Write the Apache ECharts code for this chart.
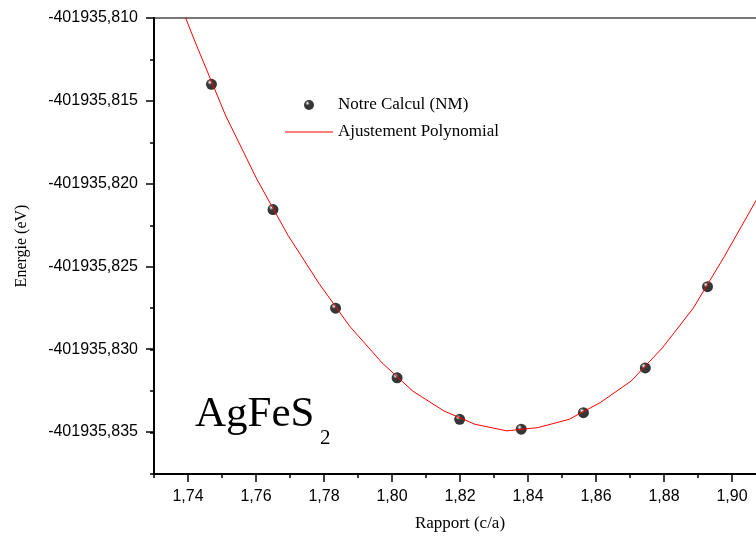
<!DOCTYPE html>
<html>
<head>
<meta charset="utf-8">
<script src="https://cdn.jsdelivr.net/npm/echarts@6/dist/echarts.min.js"></script>
<style>
html,body{margin:0;padding:0;background:#fff;}
#c{width:756px;height:538px;}
</style>
</head>
<body>
<div id="c"></div>
<script>
// Calculated points (Notre Calcul (NM))
const ratioCalc = [1.7469, 1.7650, 1.7834, 1.8015, 1.8199, 1.8380, 1.8563, 1.8745, 1.8928];
const energyCalc = [-401935.8140, -401935.82155, -401935.8275, -401935.8317, -401935.8342, -401935.8348, -401935.8338, -401935.8311, -401935.8262];
// Polynomial fit (Ajustement Polynomial)
const ratioFit = [1.7328, 1.7420, 1.7511, 1.7602, 1.7694, 1.7785, 1.7876, 1.7971, 1.8061, 1.8153, 1.8244, 1.8338, 1.8430, 1.8521, 1.8612, 1.8703, 1.8795, 1.8886, 1.8977, 1.9071, 1.9163];
const energyFit = [-401935.8066, -401935.8114, -401935.8159, -401935.8197, -401935.8231, -401935.8260, -401935.8286, -401935.8308, -401935.8325, -401935.8337, -401935.8345, -401935.8349, -401935.8347, -401935.8342, -401935.8332, -401935.8319, -401935.8299, -401935.8275, -401935.8244, -401935.8210, -401935.8169];
const seriesNames = ['Notre Calcul (NM)', 'Ajustement Polynomial'];
const xTitle = 'Rapport (c/a)';
const yTitle = 'Energie (eV)';
const compound = 'AgFeS';
const compoundSub = '2';

const serif = '"Liberation Serif", "Times New Roman", serif';
const sans = '"Liberation Sans", Arial, sans-serif';

const chart = echarts.init(document.getElementById('c'), null, {renderer: 'canvas'});

const sphere = {
  type: 'radial', x: 0.35, y: 0.32, r: 0.7,
  colorStops: [
    {offset: 0, color: '#ffffff'},
    {offset: 0.12, color: '#a0a0a0'},
    {offset: 0.32, color: '#080808'},
    {offset: 1, color: '#000000'}
  ]
};

const option = {
  backgroundColor: '#ffffff',
  animation: false,
  grid: [
    {left: 154, right: -10, top: 18, bottom: 64, outerBoundsMode: 'none', containLabel: false, show: true, borderColor: '#777777', borderWidth: 2, backgroundColor: 'transparent'},
    {left: 188, right: -10, top: 18, bottom: 64, outerBoundsMode: 'none', containLabel: false},
    {left: 154, right: -10, top: 18, bottom: 106, outerBoundsMode: 'none', containLabel: false}
  ],
  legend: {
    orient: 'vertical', left: 280, top: 90,
    itemWidth: 48, itemHeight: 10, itemGap: 7,
    data: [
      {name: seriesNames[0]},
      {name: seriesNames[1], icon: 'path://M0,0L48,0L48,1L0,1Z', itemStyle: {color: '#ff0000'}}
    ],
    textStyle: {fontFamily: serif, fontSize: 17, color: '#000', lineHeight: 20}
  },
  xAxis: [
    {
      gridIndex: 0, type: 'value', min: 1.73, max: 1.91, interval: 0.01,
      name: xTitle, nameLocation: 'middle', nameGap: 41,
      nameTextStyle: {fontFamily: serif, fontSize: 17, color: '#000'},
      axisLine: {show: true, onZero: false, lineStyle: {color: '#000', width: 2}},
      axisTick: {show: true, length: 4, inside: false, lineStyle: {color: '#000', width: 1.5}},
      axisLabel: {show: false},
      splitLine: {show: false}
    },
    {
      gridIndex: 1, type: 'value', min: 1.74, max: 1.91, interval: 0.02,
      axisLine: {show: false, onZero: false},
      axisTick: {show: true, length: 8, inside: false, lineStyle: {color: '#000', width: 1.5}},
      axisLabel: {
        show: true, margin: 15, fontFamily: sans, fontSize: 16, color: '#000',
        formatter: function (v) {
          if (Math.abs(v * 50 - Math.round(v * 50)) > 1e-6) return '';
          return v.toFixed(2).replace('.', ',');
        }
      },
      splitLine: {show: false}
    },
    {gridIndex: 2, type: 'value', min: 0, max: 1, show: false}
  ],
  yAxis: [
    {
      gridIndex: 0, type: 'value', min: -401935.8375, max: -401935.810, interval: 0.0025,
      name: yTitle, nameLocation: 'middle', nameGap: 124,
      nameTextStyle: {fontFamily: serif, fontSize: 16, color: '#000'},
      axisLine: {show: true, onZero: false, lineStyle: {color: '#000', width: 2}},
      axisTick: {show: true, length: 4, inside: false, lineStyle: {color: '#000', width: 1.5}},
      axisLabel: {show: false},
      splitLine: {show: false},
      scale: true
    },
    {gridIndex: 1, type: 'value', min: 0, max: 1, show: false},
    {
      gridIndex: 2, type: 'value', min: -401935.835, max: -401935.810, interval: 0.005,
      axisLine: {show: false, onZero: false},
      axisTick: {show: true, length: 8, inside: false, lineStyle: {color: '#000', width: 1.5}},
      axisLabel: {
        show: true, margin: 16, fontFamily: sans, fontSize: 16, color: '#000',
        formatter: function (v) { return v.toFixed(3).replace('.', ','); }
      },
      splitLine: {show: false},
      scale: true
    }
  ],
  series: [
    {
      name: seriesNames[0], type: 'scatter', xAxisIndex: 0, yAxisIndex: 0,
      data: ratioCalc.map((x, i) => [x, energyCalc[i]]),
      symbol: 'circle', symbolSize: 11,
      itemStyle: {color: sphere},
      z: 2
    },
    {
      name: seriesNames[1], type: 'line', xAxisIndex: 0, yAxisIndex: 0,
      data: ratioFit.map((x, i) => [x, energyFit[i]]),
      showSymbol: false, symbol: 'none', smooth: false, clip: true,
      lineStyle: {color: '#ff0000', width: 1},
      itemStyle: {color: '#ff0000'},
      z: 3
    }
  ],
  graphic: [
    {
      type: 'text', left: 195, top: 393,
      style: {text: compound, font: '43px ' + serif, fill: '#000'}
    },
    {
      type: 'text', left: 320, top: 428,
      style: {text: compoundSub, font: '21px ' + serif, fill: '#000'}
    }
  ]
};

chart.setOption(option);
</script>
</body>
</html>
